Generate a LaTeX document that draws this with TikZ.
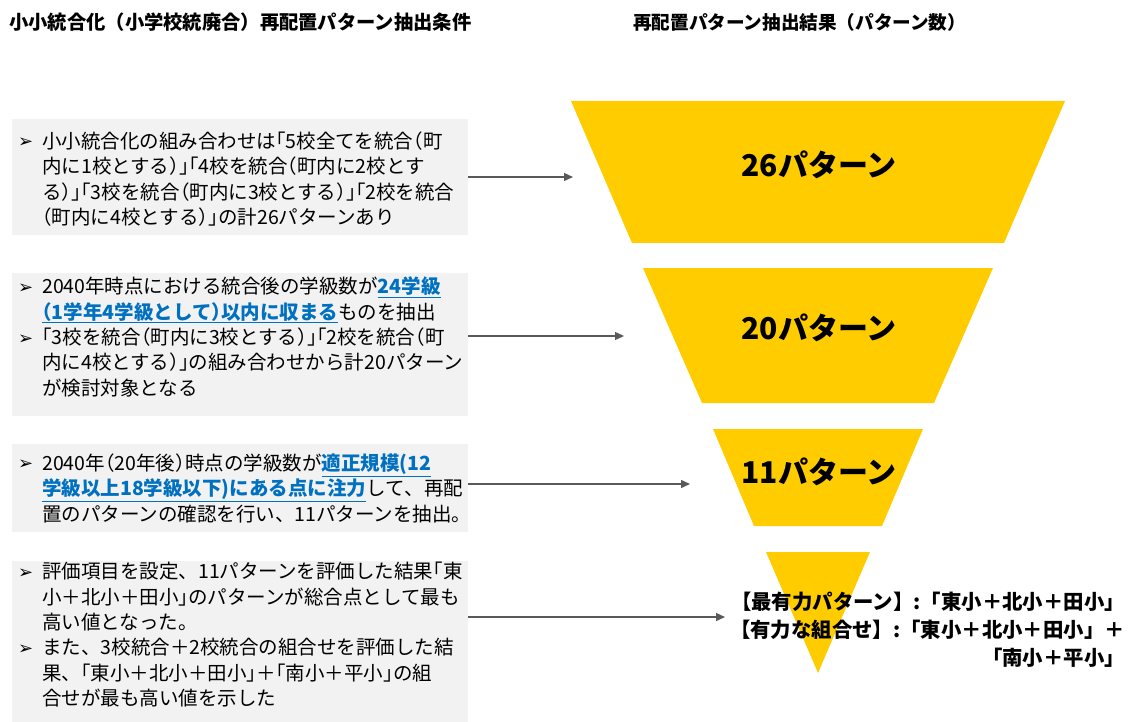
\documentclass[tikz,border=0pt]{standalone}
\usepackage{fontspec}
\setmainfont{Noto Sans CJK JP}
\newfontfamily\condfont[RawFeature=+halt]{Noto Sans CJK JP}
\newfontfamily\dejavu{DejaVu Sans}
\usetikzlibrary{arrows.meta}
\definecolor{funnelyellow}{HTML}{FFCC00}
\definecolor{boxgray}{HTML}{F2F2F2}
\definecolor{arrowgray}{HTML}{595959}
\definecolor{hlblue}{HTML}{0070C0}
\newcommand\bul{\makebox[24pt][l]{\raisebox{0.5pt}{\dejavu\fontsize{18}{18}\selectfont ➢}}}
\newcommand\hlt[1]{\textcolor{hlblue}{\bfseries\underline{#1}}}
\newcommand\ten{\makebox[1em][l]{、}}
\tikzset{
  condbox/.style={fill=boxgray, draw=none, inner sep=0pt, anchor=north west},
  condtext/.style={inner sep=0pt, anchor=north west, font=\condfont\fontsize{19.5}{25.3}\selectfont},
  flow/.style={draw=arrowgray, line width=1.4pt, -{Triangle[length=9pt,width=8pt]}},
  funnel/.style={fill=funnelyellow, draw=none},
  funnellabel/.style={font=\bfseries\fontsize{30}{30}\selectfont, inner sep=0pt},
  heading/.style={font=\bfseries\fontsize{19.3}{20}\selectfont, inner sep=0pt, anchor=west},
  result/.style={font=\bfseries\fontsize{20.4}{28}\selectfont, inner sep=0pt, align=right, anchor=north east},
}
\begin{document}
\begin{tikzpicture}[x=1pt,y=-1pt]
\useasboundingbox (0,0) rectangle (1130,722);

% headings
\node[heading] (h1) at (9,22) {小小統合化（小学校統廃合）再配置パターン抽出条件};
\node[heading, font=\bfseries\fontsize{18.6}{20}\selectfont] (h2) at (633,22) {再配置パターン抽出結果（パターン数）};

% condition boxes
\node[condbox, minimum width=456pt, minimum height=116pt] (b1) at (12,119) {};
\node[condbox, minimum width=456pt, minimum height=143pt] (b2) at (12,273) {};
\node[condbox, minimum width=456pt, minimum height=88pt] (b3) at (12,444) {};
\node[condbox, minimum width=456pt, minimum height=161pt] (b4) at (12,561) {};

\node[condtext] (t1) at (18,130.5) {\begin{tabular}{@{}l@{}l@{}}
\bul & 小小統合化の組み合わせは「5校全てを統合（町\\
 & 内に1校とする）」「4校を統合（町内に2校とす\\
 & る）」「3校を統合（町内に3校とする）」「2校を統合\\
 & （町内に4校とする）」の計26パターンあり
\end{tabular}};

\node[condtext] (t2) at (18,276) {\begin{tabular}{@{}l@{}l@{}}
\bul & 2040年時点における統合後の学級数が\hlt{24学級}\\
 & \hlt{（1学年4学級として）以内に収まる}ものを抽出\\
\bul & 「3校を統合（町内に3校とする）」「2校を統合（町\\
 & 内に4校とする）」の組み合わせから計20パターン\\
 & が検討対象となる
\end{tabular}};

\node[condtext] (t3) at (18,452.5) {\begin{tabular}{@{}l@{}l@{}}
\bul & 2040年（20年後）時点の学級数が\hlt{適正規模(12}\\
 & \hlt{学級以上18学級以下)にある点に注力}して\ten 再配\\
 & 置のパターンの確認を行い\ten 11パターンを抽出。
\end{tabular}};

\node[condtext] (t4) at (18,561) {\begin{tabular}{@{}l@{}l@{}}
\bul & 評価項目を設定\ten 11パターンを評価した結果「東\\
 & 小＋北小＋田小」のパターンが総合点として最も\\
 & 高い値となった。\\
\bul & また\ten 3校統合＋2校統合の組合せを評価した結\\
 & 果\ten 「東小＋北小＋田小」＋「南小＋平小」の組\\
 & 合せが最も高い値を示した
\end{tabular}};

% funnel
\fill[funnel] (571,101) -- (1065,101) -- (1004,243) -- (632,243) -- cycle;
\fill[funnel] (643,268) -- (993,268) -- (934,403) -- (702,403) -- cycle;
\fill[funnel] (713,429) -- (923,429) -- (882,526) -- (754,526) -- cycle;
\fill[funnel] (766,552) -- (870,552) -- (818,673) -- cycle;

\node[funnellabel] (f1) at (819,165) {26パターン};
\node[funnellabel] (f2) at (819,328) {20パターン};
\node[funnellabel] (f3) at (819,472) {11パターン};

\node[result] (r) at (1125,592) {【最有力パターン】:「東小＋北小＋田小」\\【有力な組合せ】:「東小＋北小＋田小」＋\\「南小＋平小」};

% arrows
\coordinate (e1) at (573,177);
\coordinate (e2) at (624,336);
\coordinate (e3) at (690,484);
\coordinate (e4) at (725,617);
\draw[flow] (b1.east |- e1) -- (e1);
\draw[flow] (b2.east |- e2) -- (e2);
\draw[flow] (b3.east |- e3) -- (e3);
\draw[flow] (b4.east |- e4) -- (e4);
\end{tikzpicture}
\end{document}
